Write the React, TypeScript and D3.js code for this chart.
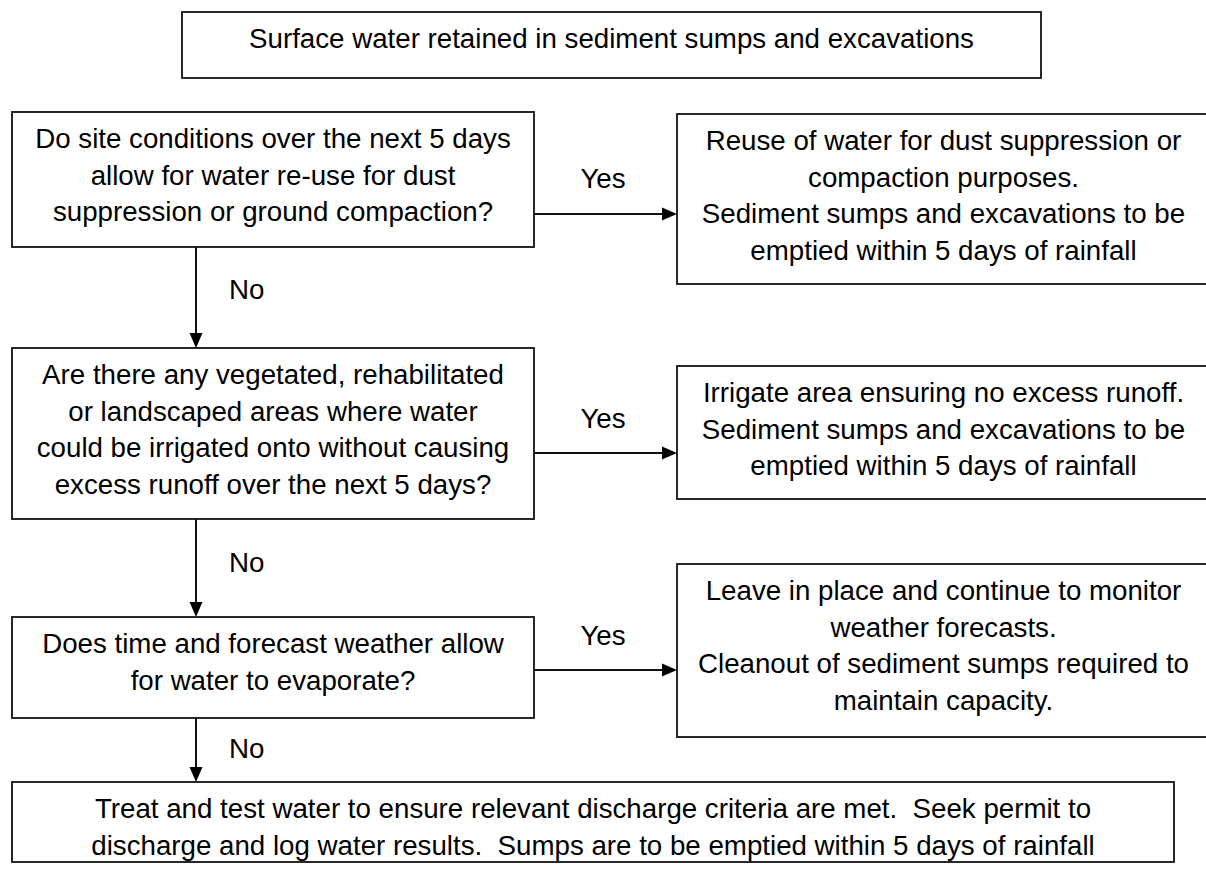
import React from 'react';
import * as d3 from 'd3';

// Flowchart content
const startText = ['Surface water retained in sediment sumps and excavations'];

const questionTexts = [
    ['Do site conditions over the next 5 days', 'allow for water re-use for dust', 'suppression or ground compaction?'],
    ['Are there any vegetated, rehabilitated', 'or landscaped areas where water', 'could be irrigated onto without causing', 'excess runoff over the next 5 days?'],
    ['Does time and forecast weather allow', 'for water to evaporate?'],
];

const outcomeTexts = [
    ['Reuse of water for dust suppression or', 'compaction purposes.', 'Sediment sumps and excavations to be', 'emptied within 5 days of rainfall'],
    ['Irrigate area ensuring no excess runoff.', 'Sediment sumps and excavations to be', 'emptied within 5 days of rainfall'],
    ['Leave in place and continue to monitor', 'weather forecasts.', 'Cleanout of sediment sumps required to', 'maintain capacity.'],
];

const finalText = [
    'Treat and test water to ensure relevant discharge criteria are met.  Seek permit to',
    'discharge and log water results.  Sumps are to be emptied within 5 days of rainfall',
];

const yesLabel = 'Yes';
const noLabel = 'No';

// Layout (pixel boxes)
interface Box { x0: number; x1: number; y0: number; y1: number; lines: string[] }

const W = 1206;
const H = 870;
const FONT = '"Liberation Sans", Arial, Helvetica, sans-serif';
const FS = 27.7;
const LINE = 36.5;

const qFrame = [
    { y0: 112, y1: 247 },
    { y0: 348, y1: 519 },
    { y0: 617, y1: 718 },
];
const oFrame = [
    { y0: 114, y1: 284, ay: 214, ly: 188 },
    { y0: 366, y1: 499, ay: 453, ly: 428 },
    { y0: 564, y1: 737, ay: 670, ly: 645 },
];

const boxes: Box[] = [
    { x0: 182, x1: 1041, y0: 12, y1: 78, lines: startText },
    ...questionTexts.map((lines, i) => ({ x0: 12, x1: 534, y0: qFrame[i].y0, y1: qFrame[i].y1, lines })),
    ...outcomeTexts.map((lines, i) => ({ x0: 677, x1: 1210, y0: oFrame[i].y0, y1: oFrame[i].y1, lines })),
    { x0: 12, x1: 1174, y0: 782, y1: 862, lines: finalText },
];

const spineX = 196;
const noArrows = [
    { y0: 247, y1: 348, ly: 299 },
    { y0: 519, y1: 617, ly: 572 },
    { y0: 718, y1: 782, ly: 758 },
];

const line = d3.line<[number, number]>();

function arrowHead(x: number, y: number, dir: 'down' | 'right') {
    const p = d3.path();
    const len = 15;
    const hw = 6.5;
    if (dir === 'down') {
        p.moveTo(x, y);
        p.lineTo(x - hw, y - len);
        p.lineTo(x + hw, y - len);
    } else {
        p.moveTo(x, y);
        p.lineTo(x - len, y - hw);
        p.lineTo(x - len, y + hw);
    }
    p.closePath();
    return p.toString();
}

const App: React.FC = () => {
    return (
        <svg
            width={W}
            height={H}
            viewBox={`0 0 ${W} ${H}`}
            style={{ position: 'absolute', left: 0, top: 0, display: 'block', background: '#fff' }}
        >
            <rect x={0} y={0} width={W} height={H} fill="#fff" />

            {boxes.map((b, i) => (
                <g key={i}>
                    <rect
                        x={b.x0}
                        y={b.y0}
                        width={b.x1 - b.x0}
                        height={b.y1 - b.y0}
                        fill="#fff"
                        stroke="#111"
                        strokeWidth={1.8}
                    />
                    {b.lines.map((t, j) => (
                        <text
                            key={j}
                            x={(b.x0 + b.x1) / 2}
                            y={b.y0 + 36 + j * LINE}
                            textAnchor="middle"
                            fontFamily={FONT}
                            fontSize={FS}
                            fill="#000"
                            xmlSpace="preserve"
                            style={{ whiteSpace: 'pre' }}
                        >
                            {t}
                        </text>
                    ))}
                </g>
            ))}

            {/* Yes branches */}
            {oFrame.map((o, i) => (
                <g key={`yes-${i}`}>
                    <path d={line([[534, o.ay], [664, o.ay]]) || ''} stroke="#111" strokeWidth={2} fill="none" />
                    <path d={arrowHead(677, o.ay, 'right')} fill="#000" />
                    <text x={603} y={o.ly} textAnchor="middle" fontFamily={FONT} fontSize={FS} fill="#000">
                        {yesLabel}
                    </text>
                </g>
            ))}

            {/* No branches */}
            {noArrows.map((a, i) => (
                <g key={`no-${i}`}>
                    <path d={line([[spineX, a.y0], [spineX, a.y1 - 13]]) || ''} stroke="#111" strokeWidth={2} fill="none" />
                    <path d={arrowHead(spineX, a.y1, 'down')} fill="#000" />
                    <text x={229} y={a.ly} fontFamily={FONT} fontSize={FS} fill="#000">
                        {noLabel}
                    </text>
                </g>
            ))}
        </svg>
    );
};

export default App;
